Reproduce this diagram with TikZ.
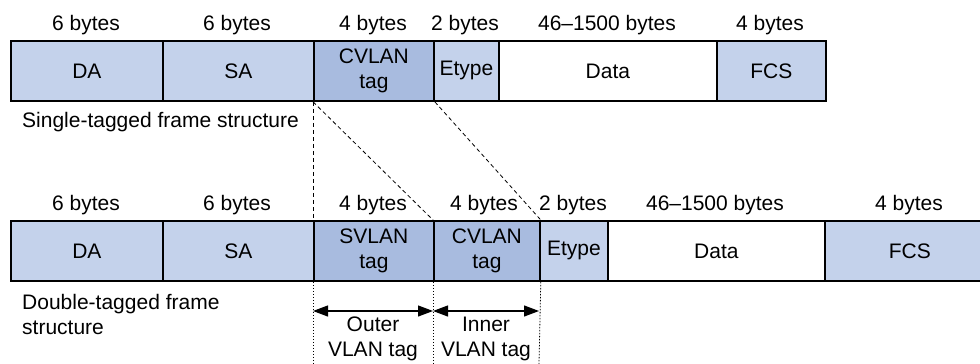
\documentclass[tikz,border=0pt]{standalone}
\usepackage{fontspec}
\setmainfont{Liberation Sans}
\usetikzlibrary{arrows.meta}
\definecolor{lightblue}{HTML}{C4D2EB}
\definecolor{darkblue}{HTML}{A8BBDF}
\begin{document}
\begin{tikzpicture}[x=1pt,y=-1pt,
  field/.style={draw, line width=1.8pt, minimum height=60pt, inner sep=0pt, anchor=north west,
    align=center, font=\fontsize{21}{25}\selectfont, fill=lightblue},
  tagfield/.style={field, fill=darkblue},
  datafield/.style={field, fill=white},
  bytes/.style={font=\fontsize{21}{25}\selectfont, inner sep=0pt},
  caption/.style={font=\fontsize{21}{25}\selectfont, inner sep=0pt, anchor=west, align=left},
  guide/.style={line width=0.8pt, dash pattern=on 4pt off 3pt},
  dotguide/.style={line width=0.8pt, dash pattern=on 1.5pt off 1.5pt},
  span/.style={line width=1.2pt, {Triangle[length=15pt,width=11pt]}-{Triangle[length=15pt,width=11pt]}},
  spanlabel/.style={font=\fontsize{21}{25}\selectfont, inner sep=0pt, align=center}
]
\useasboundingbox (0,0) rectangle (980,364);
% single-tagged frame
\node[field, minimum width=152pt] (da1) at (10,40) {DA};
\node[field, minimum width=151pt] (sa1) at (162,40) {SA};
\node[tagfield, minimum width=120pt] (cv1) at (313,40) {CVLAN\\tag};
\node[field, minimum width=65pt] (et1) at (433,40) {Etype};
\node[datafield, minimum width=218pt] (dt1) at (498,40) {Data};
\node[field, minimum width=109pt] (fc1) at (716,40) {FCS};
\node[bytes] (b11) at (86,25) {6 bytes};
\node[bytes] (b12) at (237,25) {6 bytes};
\node[bytes] (b13) at (373,25) {4 bytes};
\node[bytes] (b14) at (465,25) {2 bytes};
\node[bytes] (b15) at (607,25) {46–1500 bytes};
\node[bytes] (b16) at (770,25) {4 bytes};
\node[caption] (cap1) at (22,122) {Single-tagged frame structure};
% double-tagged frame
\node[field, minimum width=152pt] (da2) at (10,220) {DA};
\node[field, minimum width=151pt] (sa2) at (162,220) {SA};
\node[tagfield, minimum width=120pt] (sv2) at (313,220) {SVLAN\\tag};
\node[tagfield, minimum width=106pt] (cv2) at (433,220) {CVLAN\\tag};
\node[field, minimum width=68pt] (et2) at (539,220) {Etype};
\node[datafield, minimum width=217pt] (dt2) at (607,220) {Data};
\node[field, minimum width=170pt] (fc2) at (824,220) {FCS};
\node[bytes] (b21) at (86,205) {6 bytes};
\node[bytes] (b22) at (237,205) {6 bytes};
\node[bytes] (b23) at (373,205) {4 bytes};
\node[bytes] (b24) at (484,205) {4 bytes};
\node[bytes] (b25) at (573,205) {2 bytes};
\node[bytes] (b26) at (715,205) {46–1500 bytes};
\node[bytes] (b27) at (909,205) {4 bytes};
\node[caption] (cap2) at (22,314) {Double-tagged frame\\structure};
% mapping guides
\draw[guide] (cv1.south west) -- (sv2.north west);
\draw[guide] (cv1.south west) -- (cv2.north west);
\draw[guide] (cv1.south east) -- (cv2.north east);
% dotted extension lines
\coordinate (e1) at (313,364);
\coordinate (e2) at (433,364);
\coordinate (e3) at (539,364);
\draw[dotguide] (sv2.south west) -- (e1);
\draw[dotguide] (cv2.south west) -- (e2);
\draw[dotguide] (cv2.south east) -- (e3);
% spans
\coordinate (a1) at (313,311);
\coordinate (a2) at (433,311);
\coordinate (a3) at (539,311);
\draw[span] (a1) -- (a2);
\draw[span] (a2) -- (a3);
\node[spanlabel] (outer) at (373,339) {Outer\\VLAN tag};
\node[spanlabel] (inner) at (486,339) {Inner\\VLAN tag};
\end{tikzpicture}
\end{document}
